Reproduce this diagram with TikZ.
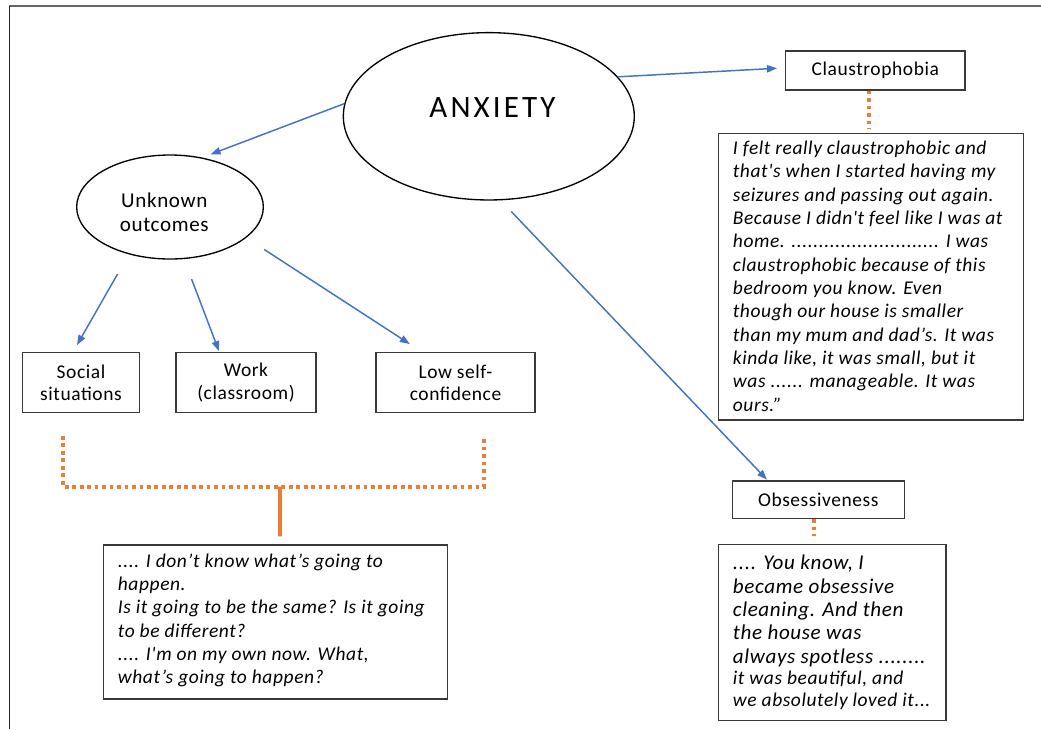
\documentclass[tikz,border=0pt]{standalone}
\usepackage{fontspec}
\setmainfont{Carlito}
\newfontfamily\lblfont{Carlito}[LetterSpace=3]
\newfontfamily\ttlfont{Carlito}[LetterSpace=10]
\usetikzlibrary{shapes.geometric,arrows.meta}
\definecolor{linkblue}{HTML}{4472C4}
\definecolor{noteorange}{HTML}{ED7D31}
\definecolor{boxgray}{HTML}{3A3A3A}

\begin{document}
\begin{tikzpicture}[x=0.75pt,y=-0.75pt,
  bubble/.style={ellipse, draw=black, line width=1pt, inner sep=0pt},
  tagbox/.style={rectangle, draw=boxgray, line width=1pt, inner sep=0pt, align=center,
    font=\lblfont\fontsize{14.6pt}{17pt}\selectfont},
  quotebox/.style={rectangle, draw=boxgray, line width=1pt, inner sep=0pt},
  quotetext/.style={inner sep=0pt, align=left, anchor=north west,
    font=\lblfont\itshape\fontsize{14.6pt}{17.5pt}\selectfont},
  link/.style={draw=linkblue, line width=1.1pt, -{Triangle[length=7.5pt,width=5.5pt]}},
  dotline/.style={draw=noteorange, line width=2.8pt, dash pattern=on 2.8pt off 2.8pt},
]
\useasboundingbox (0,0) rectangle (1041,729);

% page frame (top and left edges)
\coordinate (ftl) at (9.3,6);
\coordinate (ftr) at (1041,6);
\coordinate (fbl) at (9.3,729);
\draw[draw=black!60, line width=1.6pt] (ftl) -- (ftr);
\draw[draw=black!85, line width=1.1pt] (ftl) -- (fbl);

% central themes
\node[bubble, minimum width=218.25pt, minimum height=125.5pt] (anx) at (488.8,116.3) {};
\node[inner sep=0pt, font=\ttlfont\fontsize{23.3pt}{28pt}\selectfont] (anxlbl) at (492.5,107.5) {ANXIETY};
\node[bubble, minimum width=140pt, minimum height=78pt] (unk) at (170,207) {};
\node[inner sep=0pt, align=center, font=\lblfont\fontsize{15.8pt}{18.3pt}\selectfont] (unklbl) at (164.3,212.3) {Unknown\\outcomes};

% sub-themes
\node[tagbox, minimum width=134.5pt, minimum height=29.25pt] (claus) at (875.3,70.5) {Claustrophobia};
\node[tagbox, minimum width=129pt, minimum height=28pt] (obs) at (818.3,499.7) {Obsessiveness};
\node[tagbox, minimum width=87.5pt, minimum height=45pt] (soc) at (81,382.7) {Social\\situations};
\node[tagbox, minimum width=105pt, minimum height=45pt] (work) at (246,382.7) {Work\\(classroom)};
\node[tagbox, minimum width=119.25pt, minimum height=45pt] (low) at (455.5,382.7) {Low self-\\confidence};

% quotation boxes
\node[quotebox, minimum width=228.75pt, minimum height=215pt] (cq) at (870.8,276.7) {};
\node[quotebox, minimum width=170.8pt, minimum height=132.3pt] (oq) at (832.2,632.5) {};
\node[quotebox, minimum width=258pt, minimum height=115.5pt] (bq) at (275.3,622) {};

\node[quotetext] (cqtxt) at ([xshift=11.25pt,yshift=-6pt]cq.north west) {%
I felt really claustrophobic and\\
that's when I started having my\\
seizures and passing out again.\\
Because I didn't feel like I was at\\
home. ........................... I was\\
claustrophobic because of this\\
bedroom you know. Even\\
though our house is smaller\\
than my mum and dad’s. It was\\
kinda like, it was small, but it\\
was ...... manageable. It was\\
ours.”};

\node[quotetext] (bqtxt) at ([xshift=11.25pt,yshift=-6.75pt]bq.north west) {%
.... I don’t know what’s going to\\
happen.\\
Is it going to be the same? Is it going\\
to be different?\\
.... I'm on my own now. What,\\
what’s going to happen?};

\node[quotetext, font=\lblfont\itshape\fontsize{15.8pt}{17.5pt}\selectfont] (oqtxt)
  at ([xshift=11.25pt,yshift=-8.4pt]oq.north west) {%
.... You know, I\\
became obsessive\\
cleaning. And then\\
the house was\\
always spotless ........\\[-1.2pt]
{\fontsize{14.6pt}{16.3pt}\selectfont it was beautiful, and}\\[-1.2pt]
{\fontsize{14.6pt}{16.3pt}\selectfont we absolutely loved it...}};

% blue links
\draw[link, shorten >=6pt] (anx.17) -- ([yshift=2pt]claus.west);
\draw[link, shorten >=6.8pt] (anx.175) -- (unk.57);
\draw[link, shorten <=11.6pt, shorten >=0.75pt] (anx.278) -- ([xshift=-38pt]obs.north);
\draw[link, shorten <=17pt, shorten >=6pt] (unk.229) -- ([xshift=-6pt]soc.north);
\draw[link, shorten <=16pt, shorten >=0.75pt] (unk.285) -- ([xshift=-20pt]work.north);
\draw[link, shorten <=16pt, shorten >=11pt] (unk.338) -- ([xshift=-25pt]low.north);

% orange quote connectors
\draw[dotline, shorten >=3pt] ([xshift=-4.7pt]claus.south) -- ([xshift=-4.7pt]claus.south |- cq.north);
\draw[dotline, shorten >=5.7pt] ([xshift=-3pt]obs.south) -- ([xshift=-3pt]obs.south |- oq.north);
\coordinate (brl) at (63.3,436);
\coordinate (brr) at (484,436);
\coordinate (brj) at (280,486.7);
\draw[dotline] (brl) |- (brj) -| (brr);
\draw[draw=noteorange, line width=2.8pt, shorten >=6pt] (brj) -- ([xshift=3.5pt]bq.north);
\end{tikzpicture}
\end{document}
